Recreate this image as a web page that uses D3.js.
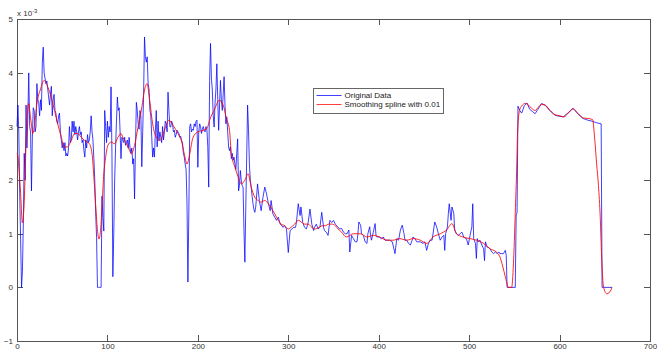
<!DOCTYPE html>
<html>
<head>
<meta charset="utf-8">
<script src="https://cdn.jsdelivr.net/npm/d3@7"></script>
<style>
  body { margin: 0; background: #fff; }
  svg { display: block; }
  .axis text { font-family: "Liberation Sans", Arial, sans-serif; font-size: 8px; fill: #333; }
  .axis path, .axis line { stroke: #555; shape-rendering: crispEdges; }
  .orig { fill: none; stroke: #0000ff; stroke-width: 1; stroke-opacity: 0.75; }
  .smooth { fill: none; stroke: #ff0000; stroke-width: 1; stroke-opacity: 0.85; }
  .legend text { font-family: "Liberation Sans", Arial, sans-serif; font-size: 8px; fill: #222; }
</style>
</head>
<body>
<svg id="chart" width="657" height="351"></svg>
<script>
// values are in units of 1e-3
const xTicks = [0, 100, 200, 300, 400, 500, 600, 700];
const yTicks = [-1, 0, 1, 2, 3, 4, 5];
const seriesNames = ["Original Data", "Smoothing spline with 0.01"];

const originalData = [
  [0,3.0],[1,3.4],[2,2.9],[3,1.75],[4,0.9],[5,0.0],[6,0.3],[7,1.2],[8,2.5],[9,2.0],
  [10,3.4],[11,2.6],[12,3.2],[13,4.0],[14,3.0],[15,2.9],[16,1.8],[17,2.8],[18,3.35],[19,3.3],
  [20,2.9],[21,3.0],[22,3.8],[23,3.5],[24,3.45],[25,3.2],[26,3.5],[27,3.3],[28,4.2],[29,4.48],
  [30,4.0],[31,3.9],[32,3.8],[33,3.85],[34,3.7],[35,3.55],[36,3.4],[37,3.6],[38,3.75],[39,3.2],
  [40,3.5],[41,3.6],[42,3.3],[43,3.25],[44,3.1],[45,3.05],[46,3.2],[47,3.25],[48,2.9],[49,2.75],
  [50,2.6],[51,2.7],[52,2.55],[53,2.7],[54,2.45],[55,2.5],[56,2.45],[57,2.6],[58,3.0],[59,2.7],
  [60,2.75],[61,3.1],[62,2.9],[63,3.1],[64,2.85],[65,3.0],[66,2.9],[67,2.75],[68,2.9],[69,3.0],
  [70,2.85],[71,2.9],[72,2.7],[73,2.75],[74,2.55],[75,2.43],[76,2.75],[77,2.6],[78,2.85],[79,2.7],
  [80,2.75],[81,2.9],[82,3.2],[83,2.9],[84,2.75],[85,2.4],[86,2.0],[87,1.4],[88,0.93],[89,0],
  [90,0],[91,0],[92,0],[93,0],[94,1.7],[95,1.3],[96,1.05],[97,3.3],[98,3.0],[99,2.7],
  [100,3.1],[101,2.8],[102,3.0],[103,2.9],[104,3.74],[105,2.5],[106,0.2],[107,1.0],[108,2.0],[109,2.6],
  [110,3.1],[111,3.55],[112,3.3],[113,3.35],[114,2.9],[115,2.4],[116,2.8],[117,2.75],[118,2.7],[119,2.8],
  [120,2.65],[121,2.7],[122,2.75],[123,2.6],[124,2.8],[125,2.6],[126,2.5],[127,2.6],[128,2.3],[129,2.4],
  [130,1.65],[131,2.6],[132,3.45],[133,3.3],[134,3.05],[135,2.95],[136,3.3],[137,3.2],[138,2.25],[139,2.9],
  [140,3.6],[141,4.67],[142,4.3],[143,4.2],[144,4.3],[145,3.8],[146,3.7],[147,3.3],[148,3.2],[149,2.8],
  [150,2.43],[151,2.6],[152,2.43],[153,2.9],[154,3.3],[155,2.62],[156,3.1],[157,2.74],[158,2.9],[159,2.8],
  [160,2.7],[161,3.0],[162,2.75],[163,2.9],[164,3.1],[165,3.05],[166,2.9],[167,3.64],[168,3.3],[169,3.0],
  [170,2.99],[171,3.1],[172,3.05],[173,2.9],[174,2.93],[175,2.8],[176,2.85],[177,2.93],[178,2.9],[179,2.87],
  [180,2.8],[181,2.82],[182,2.74],[183,2.7],[184,2.5],[185,2.43],[186,2.3],[187,2.2],[188,1.56],[189,0.1],
  [190,1.37],[191,3.0],[192,3.05],[193,2.9],[194,2.95],[195,2.93],[196,3.05],[197,3.0],[198,3.1],[199,3.12],
  [200,2.24],[201,2.9],[202,3.05],[203,3.0],[204,2.87],[205,2.95],[206,3.0],[207,2.93],[208,2.9],[209,3.0],
  [210,2.95],[211,2.62],[212,1.87],[213,3.86],[214,4.55],[215,3.9],[216,3.68],[217,3.2],[218,2.99],[219,3.43],
  [220,3.7],[221,4.17],[222,3.5],[223,2.93],[224,3.4],[225,3.86],[226,3.5],[227,3.3],[228,3.6],[229,3.93],
  [230,3.4],[231,3.05],[232,3.18],[233,2.9],[234,2.62],[235,2.55],[236,2.62],[237,2.4],[238,2.5],[239,2.37],
  [240,2.43],[241,2.3],[242,2.2],[243,2.5],[244,2.77],[245,1.8],[246,1.9],[247,2.18],[248,2.0],[249,1.9],
  [250,1.87],[251,1.06],[252,0.47],[253,1.5],[254,2.43],[255,3.4],[256,2.95],[257,2.3],[258,2.0],[259,1.87],
  [260,1.7],[261,1.56],[262,1.45],[263,1.4],[264,1.5],[266,1.93],[268,1.62],[270,1.43],[272,1.68],[274,1.87],
  [276,1.74],[278,1.56],[280,1.43],[281,1.62],[283,1.37],[285,1.31],[287,1.25],[289,1.31],[291,1.18],[293,1.15],
  [294,1.12],[296,1.15],[298,1.09],[300,0.65],[302,1.06],[304,1.09],[306,1.12],[308,1.12],[309,1.21],[311,1.56],
  [313,1.34],[314,1.5],[316,1.21],[318,1.12],[320,1.09],[322,1.21],[324,1.46],[326,1.18],[328,1.06],[329,1.12],
  [331,1.18],[333,1.09],[335,1.12],[337,1.4],[339,1.12],[340,1.06],[342,1.03],[344,0.97],[346,1.25],[348,1.21],
  [350,1.25],[352,1.18],[355,1.12],[357,1.09],[359,1.1],[361,1.03],[363,1.0],[365,1.0],[367,1.07],[368,0.66],
  [370,0.97],[372,0.91],[374,0.85],[376,0.85],[377,1.0],[378,1.22],[380,1.16],[381,1.0],[383,0.97],[385,0.85],
  [387,0.82],[388,1.0],[390,1.13],[391,0.97],[392,0.88],[394,1.03],[396,1.19],[397,0.97],[398,0.94],[401,0.94],
  [403,0.9],[405,0.94],[407,0.88],[409,0.88],[412,0.88],[415,0.85],[418,0.63],[420,0.91],[422,0.88],[424,1.07],
  [426,1.16],[428,1.0],[429,0.88],[431,0.88],[433,0.82],[435,0.79],[437,0.88],[438,0.94],[440,0.91],[442,0.85],
  [446,0.85],[449,0.82],[451,0.85],[453,0.69],[455,0.82],[457,0.88],[459,0.88],[462,1.22],[464,1.13],[466,1.0],
  [468,0.88],[470,0.94],[472,0.97],[473,0.69],[474,1.0],[476,1.13],[477,1.38],[478,1.56],[480,1.25],[481,1.5],
  [483,1.38],[484,1.07],[486,1.0],[488,0.97],[490,1.0],[492,1.03],[494,0.94],[496,0.91],[497,0.91],[499,0.79],
  [501,0.97],[503,1.13],[504,1.56],[505,0.91],[507,0.82],[508,0.54],[509,0.91],[510,0.85],[512,0.88],[514,0.79],
  [516,0.72],[517,0.5],[518,0.85],[520,0.75],[521,0.75],[523,0.72],[525,0.66],[527,0.63],[529,0.66],[531,0.63],
  [533,0.66],[534,0.63],[536,0.63],[538,0.63],[540,0.69],[541,0.6],[542,0],[551,0],[552,1.35],[553,1.4],
  [554,3.38],[556,3.3],[558,3.25],[559,3.29],[561,3.39],[564,3.44],[567,3.32],[570,3.28],[573,3.24],[576,3.32],
  [580,3.43],[584,3.4],[589,3.3],[595,3.21],[600,3.19],[604,3.18],[609,3.25],[615,3.34],[620,3.24],[626,3.15],
  [631,3.12],[636,3.1],[641,3.07],[646,3.05],[647,0],[658,0]
];

const smoothData = [
  [0,2.5],[1,2.45],[2,2.25],[4,1.75],[6,1.2],[8,1.6],[10,2.68],[12.7,3.43],[15.3,3.12],[17.5,2.87],
  [20,3.12],[22.7,3.5],[25.7,3.68],[30,3.86],[34,3.74],[37.8,3.55],[41.5,3.3],[45,3.05],[49,2.8],[52,2.62],
  [55.5,2.62],[60,2.74],[63.7,2.87],[67,2.87],[71,2.8],[74.7,2.74],[80,2.68],[83,2.49],[85,2.06],[86.9,1.56],
  [88.7,1.12],[90.6,0.9],[92.4,1.06],[94.3,1.62],[96,2.12],[97.6,2.37],[100.5,2.65],[104,2.71],[108,2.68],[111.6,2.8],
  [115,2.87],[117,2.8],[121,2.68],[124.6,2.55],[126.4,2.49],[130,2.65],[134,3.0],[137.5,3.3],[141,3.68],[143.8,3.8],
  [146.7,3.49],[150,3.05],[154,2.8],[158,2.74],[163,2.93],[168,3.12],[172.6,3.02],[178,2.87],[181.7,2.74],[185,2.49],
  [188,2.3],[191,2.49],[194.7,2.8],[200,2.9],[205.7,2.93],[210,2.96],[213,3.12],[218.7,3.33],[223.5,3.49],[228,3.4],
  [231.6,3.15],[235,2.93],[237,2.5],[241,2.24],[244.6,2.06],[248,1.93],[252,2.0],[255.6,2.12],[259,1.87],[263,1.68],
  [266.7,1.62],[270,1.59],[274,1.62],[278,1.56],[282,1.46],[285,1.37],[289,1.25],[292,1.18],[296,1.15],[300,1.09],
  [303,1.12],[307,1.18],[311,1.25],[315,1.21],[318,1.18],[322,1.18],[326,1.12],[330,1.09],[334,1.12],[338,1.15],
  [341,1.15],[344.5,1.18],[348,1.18],[352,1.15],[355,1.09],[359,1.03],[364,0.94],[372,1.0],[380,1.0],[387,0.94],
  [394,0.97],[401,0.94],[409,0.88],[416,0.88],[423,0.91],[431,0.88],[438,0.91],[446,0.88],[453,0.82],[460,0.94],
  [468,1.0],[475,1.07],[481,1.19],[486,1.0],[493,0.94],[501,0.91],[508,0.88],[516,0.82],[523,0.72],[530,0.66],
  [534,0.57],[537,0.4],[540,0.2],[543.5,0.0],[547,0.0],[549,0.44],[551,1.38],[552.7,2.3],[553.5,2.87],[555.7,3.3],
  [558,3.38],[562,3.43],[565.7,3.4],[569,3.34],[573,3.3],[576.5,3.36],[580,3.41],[584,3.4],[589.5,3.3],[595,3.22],
  [600.4,3.2],[605,3.18],[609.6,3.25],[615,3.33],[620.6,3.24],[626,3.16],[631.7,3.15],[636.5,3.13],[639,2.74],[641,2.3],
  [643,1.9],[645,1.3],[646.5,0.57],[648.7,0.0],[652.3,-0.12],[656.8,-0.05],[658,0]
];

const svg = d3.select("#chart");

const x = d3.scaleLinear().domain([0, 700]).range([17, 650]);
const y = d3.scaleLinear().domain([-1, 5]).range([341, 19.3]);

// axes box, MATLAB style ticks pointing inwards
svg.append("g").attr("class", "axis")
  .attr("transform", "translate(0,341)")
  .call(d3.axisBottom(x).tickValues(xTicks).tickSize(-6).tickSizeOuter(0).tickPadding(2.5).tickFormat(d3.format("d")));

svg.append("g").attr("class", "axis")
  .attr("transform", "translate(0,19.3)")
  .call(d3.axisTop(x).tickValues(xTicks).tickSize(-6).tickSizeOuter(0).tickFormat(""));

svg.append("g").attr("class", "axis")
  .attr("transform", "translate(17,0)")
  .call(d3.axisLeft(y).tickValues(yTicks).tickSize(-6).tickSizeOuter(0).tickPadding(4).tickFormat(d3.format("d")));

svg.append("g").attr("class", "axis")
  .attr("transform", "translate(650,0)")
  .call(d3.axisRight(y).tickValues(yTicks).tickSize(-6).tickSizeOuter(0).tickFormat(""));

// exponent label
const expo = svg.append("text")
  .attr("x", 17).attr("y", 16)
  .attr("font-family", "Liberation Sans, Arial, sans-serif")
  .attr("font-size", 8).attr("fill", "#333")
  .text("x 10");
expo.append("tspan").attr("dy", -3).attr("font-size", 6).text("-3");

// data lines
const line = d3.line().x(d => x(d[0])).y(d => y(d[1]));

svg.append("path")
  .datum(originalData)
  .attr("class", "orig")
  .attr("d", line);

svg.append("path")
  .datum(smoothData)
  .attr("class", "smooth")
  .attr("d", line.curve(d3.curveMonotoneX));

// legend
const legend = svg.append("g").attr("class", "legend").attr("transform", "translate(313.5,88.5)");
legend.append("rect")
  .attr("width", 130).attr("height", 25)
  .attr("fill", "#fff").attr("stroke", "#666");

const rows = legend.selectAll(".row")
  .data(seriesNames)
  .join("g")
  .attr("transform", (d, i) => `translate(0,${7 + i * 9})`);

rows.append("line")
  .attr("x1", 3).attr("x2", 28)
  .attr("stroke", (d, i) => i === 0 ? "#0000ff" : "#ff0000")
  .attr("stroke-opacity", 0.75);

rows.append("text")
  .attr("x", 31).attr("y", 2.5)
  .text(d => d);
</script>
</body>
</html>
